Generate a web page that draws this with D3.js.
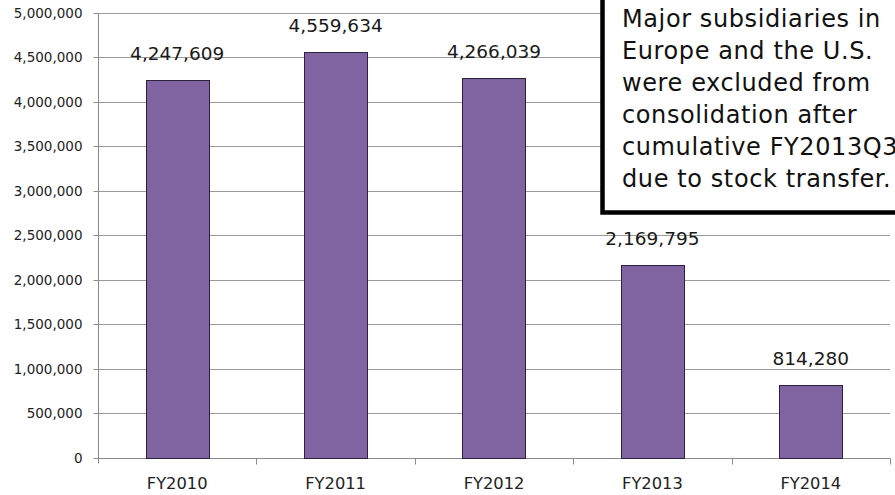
<!DOCTYPE html>
<html>
<head>
<meta charset="utf-8">
<script src="https://cdn.jsdelivr.net/npm/d3@7/dist/d3.min.js"></script>
<style>
  html, body { margin: 0; padding: 0; background: #fff; }
  svg { display: block; font-family: "DejaVu Sans", Verdana, sans-serif; }
</style>
</head>
<body>
<svg id="chart" width="895" height="495"></svg>
<script>
const categories = ["FY2010", "FY2011", "FY2012", "FY2013", "FY2014"];
const values = [4247609, 4559634, 4266039, 2169795, 814280];
const yTicks = [0, 500000, 1000000, 1500000, 2000000, 2500000, 3000000, 3500000, 4000000, 4500000, 5000000];
const noteLines = [
  "Major subsidiaries in",
  "Europe and the U.S.",
  "were excluded from",
  "consolidation after",
  "cumulative FY2013Q3",
  "due to stock transfer."
];

(function () {
const svg = d3.select("#chart");
const pLeft = 98, pRight = 890, pTop = 12.7, pBottom = 457.7;

const x = d3.scaleBand().domain(categories).range([pLeft, pRight])
  .paddingInner(0.6).paddingOuter(0.3);
const y = d3.scaleLinear().domain([0, 5000000]).range([pBottom, pTop]);
const fmt = d3.format(",");

// gridlines
svg.append("g").selectAll("line").data(yTicks.filter(d => d > 0)).join("line")
  .attr("x1", pLeft).attr("x2", pRight)
  .attr("y1", d => Math.round(y(d)) + 0.5).attr("y2", d => Math.round(y(d)) + 0.5)
  .attr("stroke", "#9a9a9a").attr("stroke-width", 1);

// y axis
const yAxis = d3.axisLeft(y).tickValues(yTicks).tickFormat(fmt).tickSize(5).tickPadding(11);
const gy = svg.append("g").attr("transform", `translate(${pLeft + 0.5},0.5)`).call(yAxis);
gy.select(".domain").attr("stroke", "#8a8a8a").attr("d", `M0,${Math.round(pTop)}V${Math.round(pBottom) + 5}`);
gy.selectAll(".tick line").attr("stroke", "#8a8a8a");
gy.selectAll(".tick text").attr("font-size", "13.5px").attr("fill", "#222")
  .attr("font-family", "DejaVu Sans, Verdana, sans-serif");
gy.selectAll(".tick").attr("transform", d => `translate(0,${Math.round(y(d))})`);

// x axis
const gx = svg.append("g").attr("transform", `translate(0,${Math.round(pBottom) + 0.5})`);
gx.append("line").attr("x1", pLeft).attr("x2", pRight + 0.5).attr("stroke", "#8a8a8a");
const boundaries = categories.map(c => x(c) - x.step() * 0.3 + x.step());
gx.selectAll("line.tk").data(boundaries).join("line").attr("class", "tk")
  .attr("x1", d => Math.round(d) + 0.5).attr("x2", d => Math.round(d) + 0.5)
  .attr("y1", 0).attr("y2", 6).attr("stroke", "#8a8a8a");
gx.selectAll("text").data(categories).join("text")
  .attr("x", d => x(d) + x.bandwidth() / 2).attr("y", 30)
  .attr("text-anchor", "middle").attr("font-size", "16.3px").attr("fill", "#222")
  .text(d => d);

// bars
svg.append("g").selectAll("rect").data(values).join("rect")
  .attr("x", (d, i) => Math.round(x(categories[i])) + 0.5)
  .attr("y", d => Math.round(y(d)) + 0.5)
  .attr("width", Math.round(x.bandwidth()))
  .attr("height", d => Math.round(pBottom) - Math.round(y(d)))
  .attr("fill", "#8064a2").attr("stroke", "#2e2140").attr("stroke-width", 1);

// value labels
svg.append("g").selectAll("text").data(values).join("text")
  .attr("x", (d, i) => x(categories[i]) + x.bandwidth() / 2)
  .attr("y", d => y(d) - 20)
  .attr("text-anchor", "middle").attr("font-size", "18.5px").attr("fill", "#1a1a1a")
  .text(d => fmt(d));

// annotation box
svg.append("rect").attr("x", 602.5).attr("y", -10).attr("width", 320).attr("height", 222.5)
  .attr("fill", "#fff").attr("stroke", "#000").attr("stroke-width", 4.5);
svg.append("g").selectAll("text").data(noteLines).join("text")
  .attr("x", 622).attr("y", (d, i) => 27 + i * 32)
  .attr("font-size", "24px").attr("letter-spacing", "0.6px").attr("fill", "#111")
  .text(d => d);
})();
</script>
</body>
</html>
